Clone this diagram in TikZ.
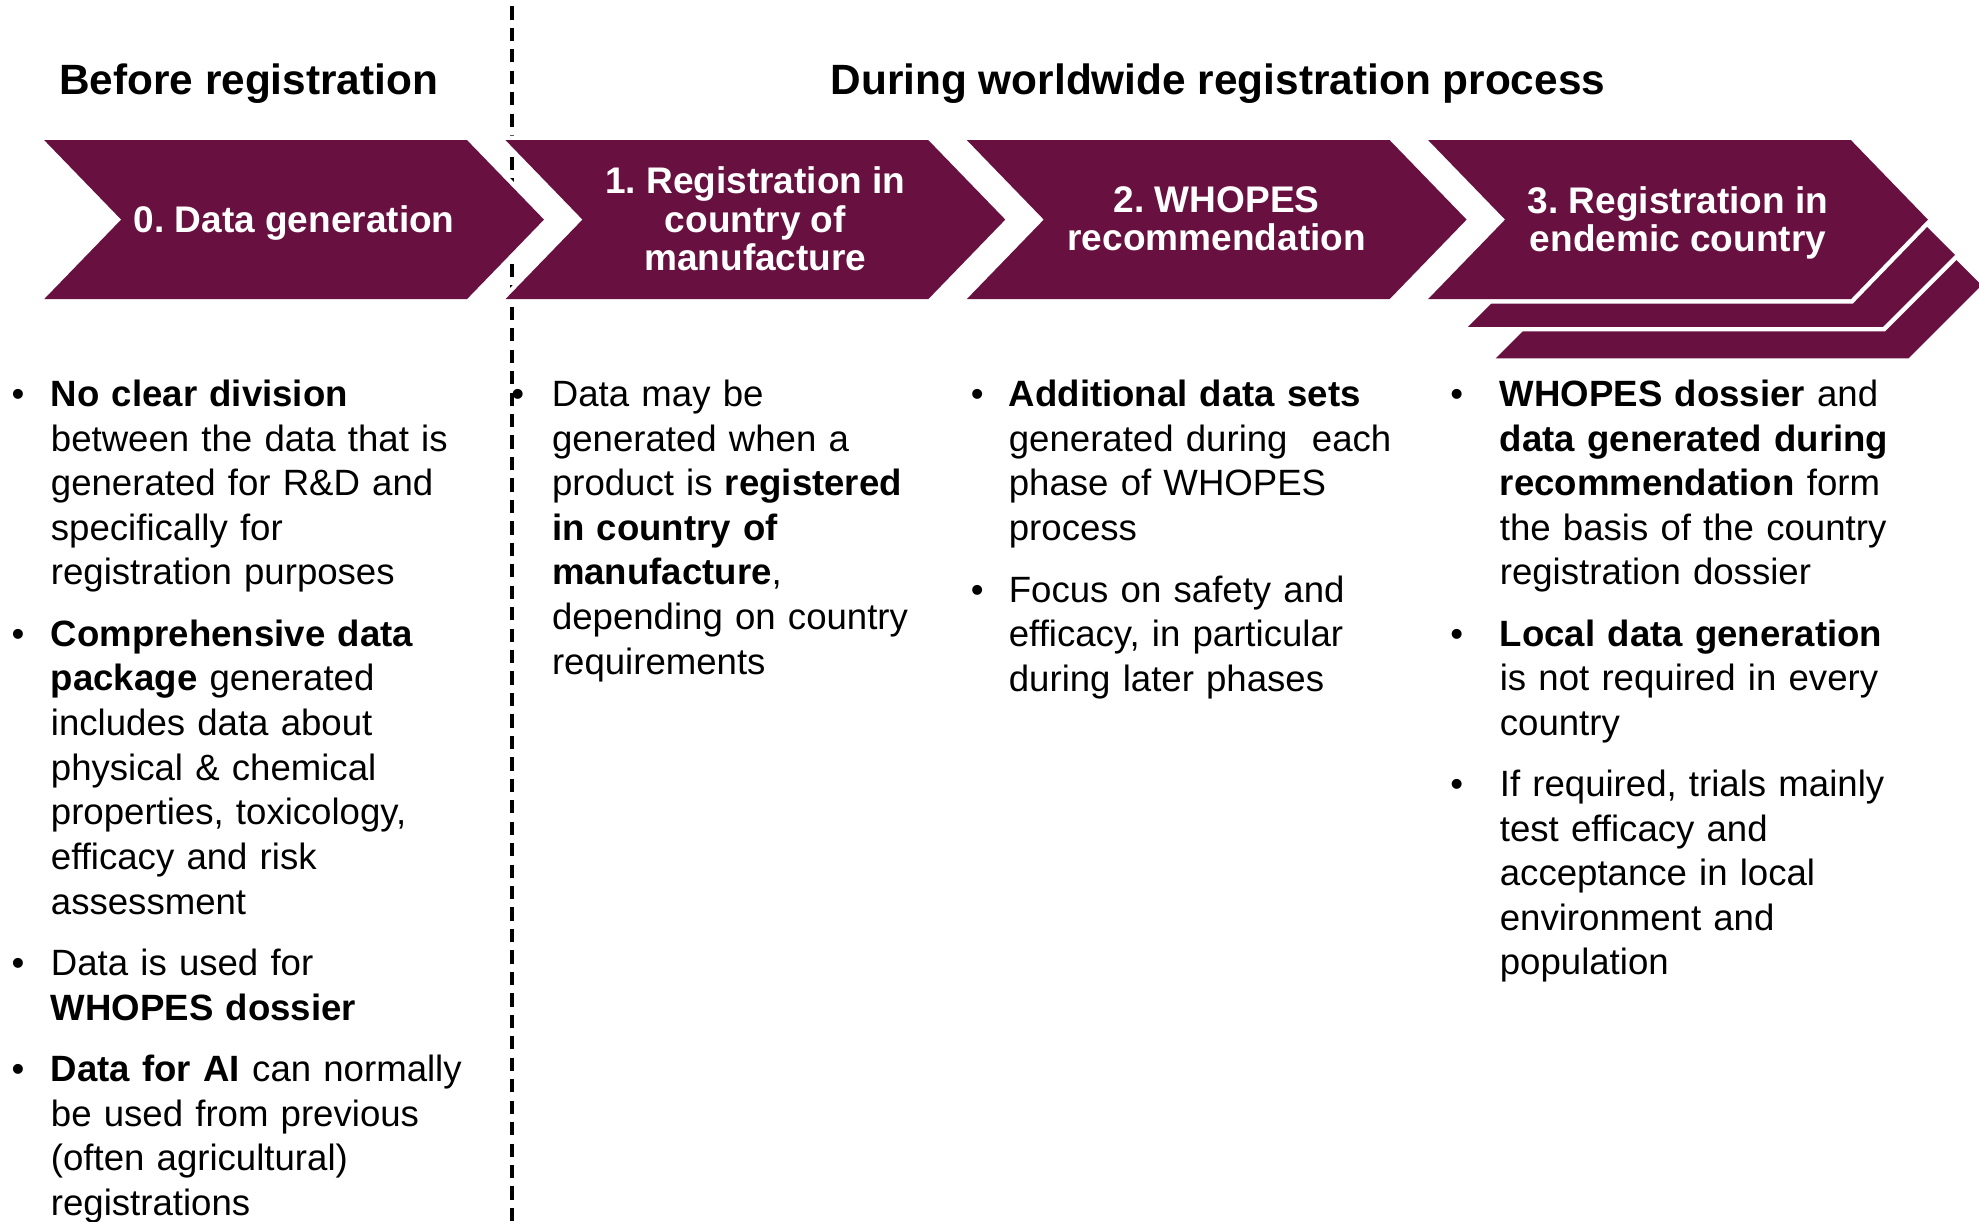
\documentclass[tikz,border=0pt]{standalone}
\usepackage{fontspec}
\setmainfont{Liberation Sans}
\definecolor{whoplum}{RGB}{104,16,64}
\newcommand{\itm}[1][0.42cm]{\leavevmode\llap{\textbullet\hspace{#1}}}

\begin{document}
\frenchspacing
\begin{tikzpicture}[
  stage/.style={fill=whoplum,preaction={draw=white,line width=4pt}},
  stagetxt/.style={text=white,font=\bfseries\fontsize{16.7}{17.3}\selectfont,align=center},
  phase/.style={font=\bfseries\fontsize{19.1}{22}\selectfont},
  note/.style={anchor=base west,text width=7.4cm,align=left,inner sep=0pt,font=\fontsize{16.5}{20.13}\selectfont},
  divider/.style={line width=1.8pt,dash pattern=on 0.21cm off 0.13cm}]
  \useasboundingbox (0,0) rectangle (31.36,19.36);
  % Divider between the two phases
  \coordinate (divtop) at (8.12,19.26);
  \coordinate (divbot) at (8.12,0);
  \draw[divider] (divtop) -- (divbot);
  % Headings
  \node[phase] (before) at (3.94,18.04) {Before registration};
  \node[phase] (during) at (19.30,18.04) {During worldwide registration process};
  % Layers behind the last stage
  \fill[stage] (23.70,13.68) -- (30.24,13.68) -- (31.40,14.84) -- (30.24,16.00) -- (25.60,16.00) -- (24.86,14.84) -- cycle;
  \fill[stage] (23.26,14.18) -- (29.84,14.18) -- (30.98,15.32) -- (29.84,16.46) -- (25.20,16.46) -- (24.40,15.32) -- cycle;
  % Stages
  \foreach \x in {0.70,8.01,15.32,22.63}
    \fill[stage] (\x,17.14) -- ++(6.7,0) -- ++(1.22,-1.26) -- ++(-1.22,-1.26) -- ++(-6.7,0) -- ++(1.22,1.26) -- cycle;
  \node[stagetxt] (s0) at (4.66,15.82) {0. Data generation};
  \node[stagetxt] (s1) at (11.97,15.89) {1. Registration in\\country of\\manufacture};
  \node[stagetxt] (s2) at (19.28,15.89) {2. WHOPES\\recommendation};
  \node[stagetxt] (s3) at (26.59,15.83) {3. Registration in\\endemic country};
  % Before registration
  \node[note] (n01) at (0.80,12.92) {\itm\textbf{No clear division}\\between the data that is\\generated for R\&D and\\specifically for\\registration purposes};
  \node[note] (n02) at (0.80,9.12) {\itm\textbf{Comprehensive data}\\\textbf{package} generated\\includes data about\\physical \& chemical\\properties, toxicology,\\efficacy and risk\\assessment};
  \node[note] (n03) at (0.80,3.90) {\itm Data is used for\\\textbf{WHOPES dossier}};
  \node[note] (n04) at (0.80,2.22) {\itm\textbf{Data for AI} can normally\\be used from previous\\(often agricultural)\\registrations};
  % Country of manufacture
  \node[note] (n11) at (8.74,12.92) {\itm[0.44cm]Data may be\\generated when a\\product is \textbf{registered}\\\textbf{in country of}\\\textbf{manufacture},\\depending on country\\requirements};
  % WHOPES
  \node[note] (n21) at (15.98,12.92) {\itm[0.40cm]\textbf{Additional data sets}\\generated during\ \ each\\phase of WHOPES\\process};
  \node[note] (n22) at (15.98,9.82) {\itm[0.40cm]Focus on safety and\\efficacy, in particular\\during later phases};
  % Endemic country
  \node[note] (n31) at (23.76,12.92) {\itm[0.58cm]\textbf{WHOPES dossier} and\\\textbf{data generated during}\\\textbf{recommendation} form\\the basis of the country\\registration dossier};
  \node[note] (n32) at (23.76,9.12) {\itm[0.58cm]\textbf{Local data generation}\\is not required in every\\country};
  \node[note] (n33) at (23.76,6.74) {\itm[0.58cm]If required, trials mainly\\test efficacy and\\acceptance in local\\environment and\\population};
\end{tikzpicture}
\end{document}
